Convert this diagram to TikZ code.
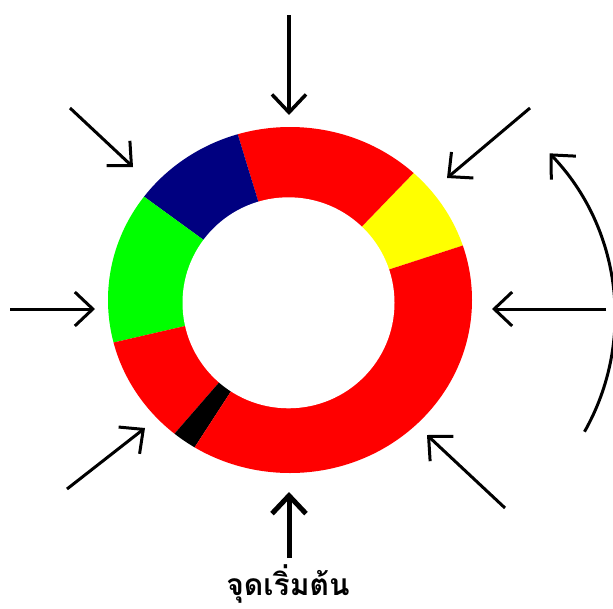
\documentclass[tikz,border=0pt]{standalone}
\usepackage{fontspec}
\newfontfamily\thaifont[Script=Thai]{Loma}
\usetikzlibrary{arrows.meta}
\definecolor{segred}{RGB}{255,0,0}
\definecolor{segyellow}{RGB}{255,255,0}
\definecolor{segnavy}{RGB}{0,0,128}
\definecolor{seggreen}{RGB}{0,255,0}
\tikzset{
  inarrow/.style={draw=black, line width=3pt, -{Straight Barb[length=18pt,width=34pt]}},
}
\newcommand{\ringwedge}[3]{%
  \fill[#1] (ctr) -- ++(-#2:320) arc[start angle=-#2, end angle=-#3, radius=320] -- cycle;}
\begin{document}
\begin{tikzpicture}[x=1pt,y=-1pt]
\useasboundingbox (0,0) rectangle (613,608);
\clip (0,0) rectangle (613,608);
\coordinate (ctr) at (289,302);
% ring
\begin{scope}
  \clip (290,300) ellipse [x radius=182, y radius=173];
  \ringwedge{segyellow}{18}{46}
  \ringwedge{segred}{46}{107}
  \ringwedge{segnavy}{107}{144}
  \ringwedge{seggreen}{144}{193}
  \ringwedge{segred}{193}{229}
  \ringwedge{black}{229}{237}
  \ringwedge{segred}{237}{378}
\end{scope}
\fill[white] (288.5,302.8) ellipse [x radius=106, y radius=105.5];
% arrow end points
\coordinate (t0) at (289,15);   \coordinate (t1) at (289,115);
\coordinate (tl0) at (70,108);  \coordinate (tl1) at (133,167);
\coordinate (tr0) at (530,108); \coordinate (tr1) at (447,178);
\coordinate (l0) at (10,309);   \coordinate (l1) at (95,309);
\coordinate (r0) at (606,309);  \coordinate (r1) at (492,309);
\coordinate (bl0) at (67,489);  \coordinate (bl1) at (145,428);
\coordinate (br0) at (505,508); \coordinate (br1) at (427,435);
\coordinate (b0) at (289,558);  \coordinate (b1) at (289,492);
\coordinate (cs) at (584.5,431.7);
\draw[inarrow, line width=3.5pt] (t0) -- (t1);
\draw[inarrow] (tl0) -- (tl1);
\draw[inarrow] (tr0) -- (tr1);
\draw[inarrow] (l0) -- (l1);
\draw[inarrow] (r0) -- (r1);
\draw[inarrow] (bl0) -- (bl1);
\draw[inarrow] (br0) -- (br1);
\draw[inarrow, line width=5pt] (b0) -- (b1);
\draw[inarrow] (cs) arc[start angle=29.5, end angle=-43.8, radius=235];
\node[font=\thaifont\bfseries\fontsize{30}{34}\selectfont, inner sep=0pt, anchor=base] (start) at (288,595) {จุดเริ่มต้น};
\end{tikzpicture}
\end{document}
